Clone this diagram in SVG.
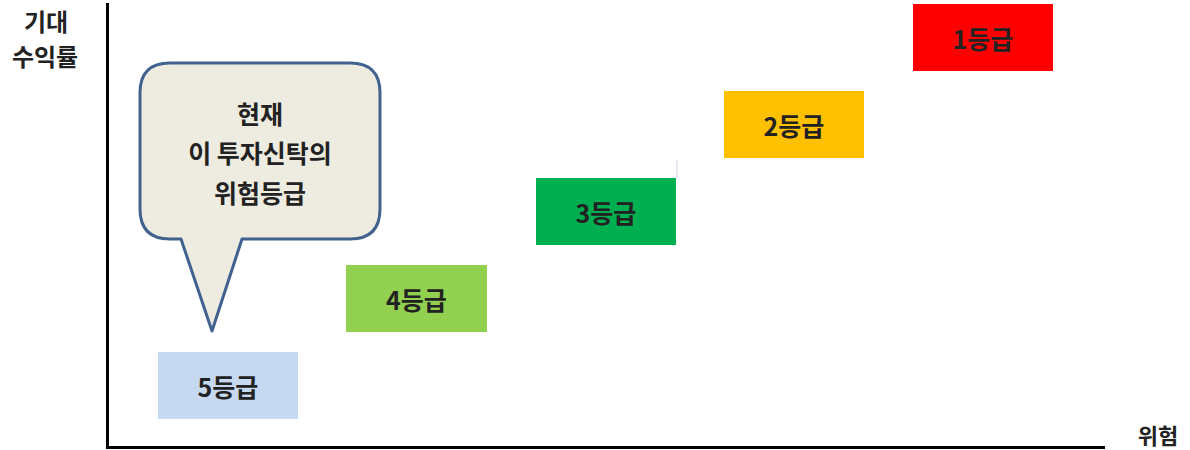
<svg xmlns="http://www.w3.org/2000/svg" width="1190" height="450" viewBox="0 0 1190 450">
<style>
text{font-family:"Noto Sans CJK KR","Noto Sans",sans-serif;font-weight:bold;font-size:24px;fill:#222;text-anchor:middle;dominant-baseline:central}
.box text{font-size:25px}
#callout text{font-size:25px}
#xlabel text{font-size:22px}
</style>
<rect width="1190" height="450" fill="#fff"/>
<g id="axes">
<line x1="107.5" y1="3" x2="107.5" y2="449" stroke="#000" stroke-width="3"/>
<line x1="106" y1="447.5" x2="1105" y2="447.5" stroke="#000" stroke-width="3"/>
</g>
<g id="ylabel"><text x="46" y="20">기대</text><text x="45" y="55">수익률</text></g>
<g id="xlabel"><text x="1158" y="434">위험</text></g>
<g id="grade5" class="box"><rect x="158" y="352" width="140" height="67" fill="#c6d9f1"/><text x="228" y="385.5">5등급</text></g>
<g id="grade4" class="box"><rect x="346" y="265" width="141" height="67" fill="#92d050"/><text x="416.5" y="298.5">4등급</text></g>
<g id="grade3" class="box"><rect x="536" y="178" width="140" height="67" fill="#00b050"/><line x1="677" y1="160" x2="677" y2="178" stroke="#dde2ef" stroke-width="1.5"/><text x="606" y="211.5">3등급</text></g>
<g id="grade2" class="box"><rect x="724" y="91" width="140" height="67" fill="#ffc000"/><text x="794" y="124.5">2등급</text></g>
<g id="grade1" class="box"><rect x="913" y="4" width="140" height="67" fill="#ff0000"/><text x="983" y="37.5">1등급</text></g>
<g id="callout">
<path d="M170,63 H350 Q380,63 380,93 V209 Q380,239 350,239 H242 L212,331 L181,239 H170 Q140,239 140,209 V93 Q140,63 170,63 Z" fill="#eeece1" stroke="#41618f" stroke-width="3" stroke-linejoin="round"/>
<text x="260" y="113">현재</text>
<text x="260" y="152">이 투자신탁의</text>
<text x="260" y="192">위험등급</text>
</g>
</svg>
